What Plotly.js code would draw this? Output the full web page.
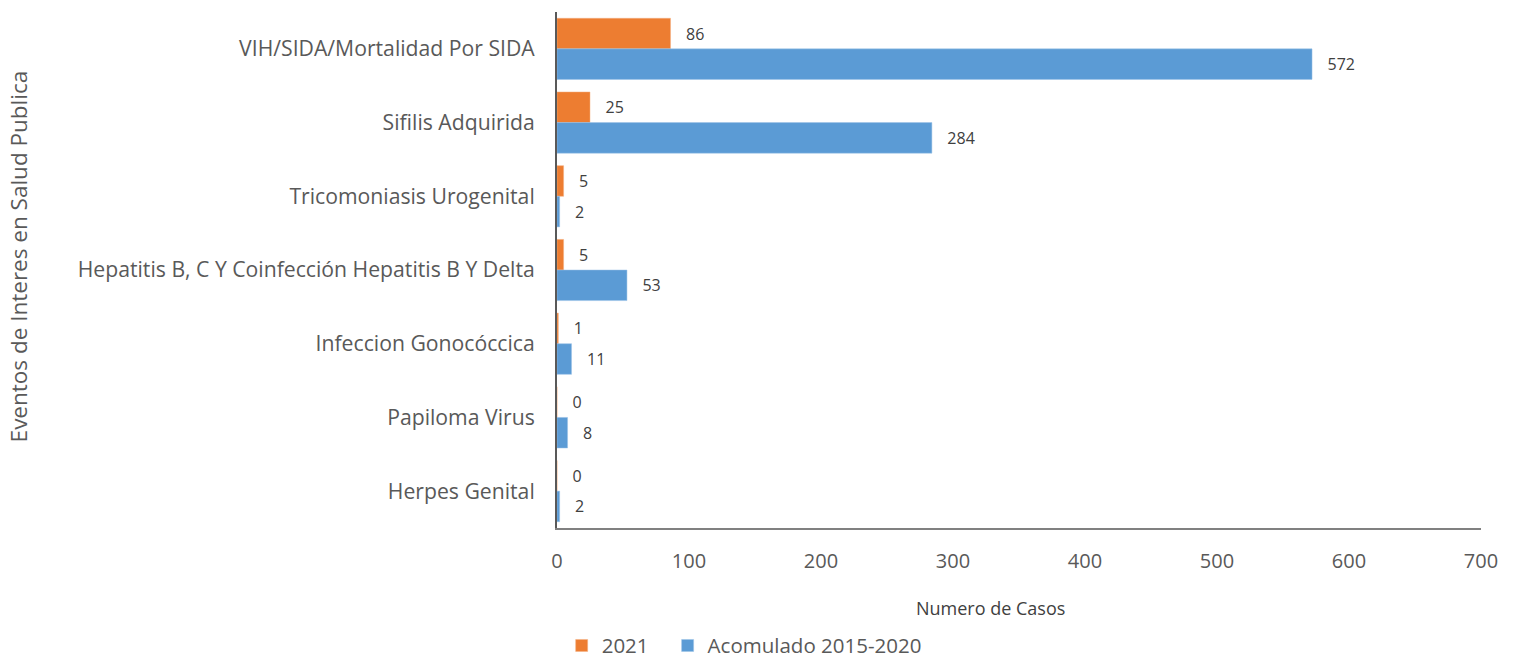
<!DOCTYPE html>
<html>
<head>
<meta charset="utf-8">
<script src="https://cdn.plot.ly/plotly-3.0.1.min.js"></script>
<style>html,body{margin:0;padding:0;background:#fff;}#chart{width:1518px;height:661px;}</style>
</head>
<body>
<div id="chart"></div>
<script>
const categories = [
  "VIH/SIDA/Mortalidad Por SIDA",
  "Sifilis Adquirida",
  "Tricomoniasis Urogenital",
  "Hepatitis B, C Y Coinfección Hepatitis B Y Delta",
  "Infeccion Gonocóccica",
  "Papiloma Virus",
  "Herpes Genital"
];
const values2021 = [86, 25, 5, 5, 1, 0, 0];
const valuesAcum = [572, 284, 2, 53, 11, 8, 2];
const seriesNames = ["2021", "Acomulado 2015-2020"];
const xTicks = [0, 100, 200, 300, 400, 500, 600, 700];

const FONT = "'Open Sans', 'Noto Sans', sans-serif";
const labelFont = {family: FONT, size: 16, color: "#404040"};
const legendFont = {family: FONT, size: 20.5, color: "#595959"};

const traces = [
  {
    type: "bar", orientation: "h", name: seriesNames[0], legend: "legend",
    y: categories, x: values2021,
    marker: {color: "#ED7D31", line: {color: "#F4B183", width: 0.5}},
    texttemplate: "\u00a0\u00a0\u00a0%{x}",
    textposition: "outside", textfont: labelFont, cliponaxis: false,
    hoverinfo: "x+y"
  },
  {
    type: "bar", orientation: "h", name: seriesNames[1], legend: "legend2",
    y: categories, x: valuesAcum,
    marker: {color: "#5B9BD5", line: {color: "#9DC3E6", width: 0.5}},
    texttemplate: "\u00a0\u00a0\u00a0%{x}",
    textposition: "outside", textfont: labelFont, cliponaxis: false,
    hoverinfo: "x+y"
  }
];

const layout = {
  width: 1518, height: 661,
  margin: {l: 557, r: 37, t: 12, b: 133, pad: 0, autoexpand: false},
  paper_bgcolor: "#ffffff", plot_bgcolor: "#ffffff",
  font: {family: FONT, color: "#595959", size: 20},
  barmode: "group", bargap: 0.17, bargroupgap: 0,
  showlegend: true,
  legend: {
    orientation: "h", xref: "container", yref: "paper",
    x: 0.37, xanchor: "left", y: -0.228, yanchor: "middle",
    font: legendFont, itemwidth: 30
  },
  legend2: {
    orientation: "h", xref: "container", yref: "paper",
    x: 0.4398, xanchor: "left", y: -0.228, yanchor: "middle",
    font: legendFont, itemwidth: 30
  },
  xaxis: {
    range: [0, 700], tickvals: xTicks, ticktext: xTicks.map(String),
    showgrid: false, zeroline: false,
    showline: true, linecolor: "#808080", linewidth: 2,
    ticks: "", ticklen: 0,
    ticklabelstandoff: 14,
    tickfont: {family: FONT, size: 20, color: "#595959"},
    fixedrange: true
  },
  yaxis: {
    type: "category", categoryorder: "array", categoryarray: categories,
    autorange: "reversed",
    showgrid: false, zeroline: false,
    showline: true, linecolor: "#595959", linewidth: 2,
    ticks: "", ticklen: 0,
    ticklabelstandoff: 16,
    tickfont: {family: FONT, size: 21.2, color: "#595959"},
    fixedrange: true
  },
  annotations: [
    {
      text: "Numero de Casos", xref: "paper", yref: "paper",
      x: 0.469, y: -0.155, xanchor: "center", yanchor: "middle",
      showarrow: false, font: {family: FONT, size: 18, color: "#404040"}
    },
    {
      text: "Eventos de Interes en Salud Publica", xref: "paper", yref: "paper",
      x: -0.583, y: 0.527, xanchor: "center", yanchor: "middle", textangle: -90,
      showarrow: false, font: {family: FONT, size: 22.5, color: "#595959"}
    }
  ]
};

Plotly.newPlot("chart", traces, layout, {displayModeBar: false, responsive: false});
</script>
</body>
</html>
